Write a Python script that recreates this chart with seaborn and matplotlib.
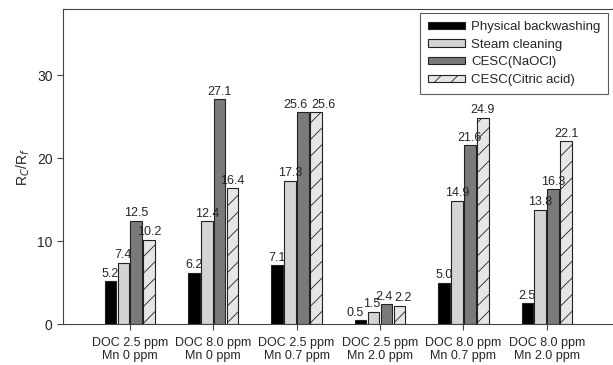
import pandas as pd
import seaborn as sns
import matplotlib.pyplot as plt

# values
conditions = ["DOC 2.5 ppm\nMn 0 ppm", "DOC 8.0 ppm\nMn 0 ppm", "DOC 2.5 ppm\nMn 0.7 ppm",
              "DOC 2.5 ppm\nMn 2.0 ppm", "DOC 8.0 ppm\nMn 0.7 ppm", "DOC 8.0 ppm\nMn 2.0 ppm"]
methods = ["Physical backwashing", "Steam cleaning", "CESC(NaOCl)", "CESC(Citric acid)"]
physical = [5.2, 6.2, 7.1, 0.5, 5.0, 2.5]
steam = [7.4, 12.4, 17.3, 1.5, 14.9, 13.8]
naocl = [12.5, 27.1, 25.6, 2.4, 21.6, 16.3]
citric = [10.2, 16.4, 25.6, 2.2, 24.9, 22.1]

rows = []
for m, vals in zip(methods, [physical, steam, naocl, citric]):
    for c, v in zip(conditions, vals):
        rows.append({"condition": c, "method": m, "value": v})
df = pd.DataFrame(rows)

sns.set_style("ticks")
plt.rcParams['font.family'] = ['Liberation Sans', 'DejaVu Sans']
plt.rcParams['hatch.linewidth'] = 0.6
plt.rcParams['hatch.color'] = '#555555'

colors = ["#000000", "#d4d4d4", "#7a7a7a", "#e6e6e6"]

fig = plt.figure(figsize=(6.13, 3.65), dpi=100)
ax = fig.add_axes([0.103, 0.112, 0.895, 0.863])

sns.barplot(data=df, x="condition", y="value", hue="method", order=conditions,
            hue_order=methods, palette=colors, width=0.62, gap=0.1,
            edgecolor="#222222", linewidth=0.8, ax=ax)

# horizontal nudges (pixels) for labels that would collide: (method index, group index)
nudge = {(2, 2): -8, (3, 2): 7, (0, 3): -5, (1, 3): -2, (2, 3): -2, (3, 3): 4}

for i, cont in enumerate(ax.containers):
    if i == 3:
        for p in cont:
            p.set_hatch("//")
    anns = ax.bar_label(cont, fmt="%.1f", fontsize=9, padding=1)
    for j, a in enumerate(anns):
        if (i, j) in nudge:
            a.xyann = (nudge[(i, j)] * 0.72, 1)

ax.set_xlim(-0.8, 5.78)
ax.set_ylim(0, 38)
ax.set_yticks([0, 10, 20, 30])
ax.set_xlabel("")
ax.set_ylabel("R$_C$/R$_f$", fontsize=10)
ax.tick_params(axis='x', labelsize=9, length=4, pad=5, color="#444444")
ax.tick_params(axis='y', labelsize=10, length=4, color="#444444")
ax.spines['right'].set_visible(False)
for s in ['left', 'bottom', 'top']:
    ax.spines[s].set_color("#444444")

handles, labels = ax.get_legend_handles_labels()
leg = ax.legend(handles, labels, loc="upper right", fontsize=9.5, frameon=True,
                fancybox=False, edgecolor="#333333", handlelength=2.8, handleheight=0.45,
                borderpad=0.6, labelspacing=0.42, handletextpad=0.5, borderaxespad=0,
                bbox_to_anchor=(0.994, 0.987))
leg.get_frame().set_linewidth(0.8)
for h in leg.legend_handles[3:]:
    h.set_hatch("//")

fig.savefig("out.png", dpi=100)
